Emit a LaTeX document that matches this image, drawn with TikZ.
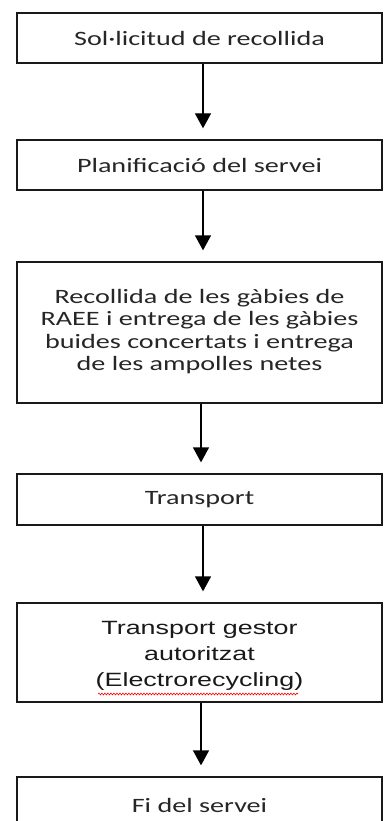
\documentclass[tikz,border=0pt]{standalone}
\usepackage{fontspec}
\setmainfont{Carlito}
\newfontfamily\arialfont{Liberation Sans}
\usetikzlibrary{arrows.meta,positioning,decorations.pathmorphing}
\begin{document}
\begin{tikzpicture}[x=1pt,y=-1pt,
  stepbox/.style={draw=black!90,line width=1.3pt,rectangle,minimum width=365pt,inner sep=0pt,text=black!85,align=center,font=\fontsize{20.4}{22.4}\selectfont},
  flow/.style={draw=black,line width=1.3pt,-{Triangle[length=15pt,width=16pt]},shorten >=11pt}
]
\useasboundingbox (0,0) rectangle (383,821);
\clip (0,0) rectangle (383,821);
\fill[white] (0,0) rectangle (383,821);
\node[stepbox,minimum height=50pt] (b1) at (199.5,38) {\scalebox{1.38}[1]{Sol·licitud de recollida}};
\node[stepbox,minimum height=50pt] (b2) at (199.5,165) {\scalebox{1.38}[1]{Planificació del servei}};
\node[stepbox,minimum height=141pt] (b3) at (199.5,332.5) {\scalebox{1.38}[1]{\begin{tabular}{@{}c@{}}Recollida de les gàbies de\\RAEE i entrega de les gàbies\\buides concertats i entrega\\de les ampolles netes\end{tabular}}};
\node[stepbox,minimum height=51pt] (b4) at (199.5,499.5) {\scalebox{1.38}[1]{Transport}};
\node[stepbox,minimum height=99pt] (b5) at (199.5,652.5) {};
\node[text=black!90,align=center,font=\arialfont\fontsize{19.2}{26}\selectfont] (t5) at (199.5,655) {\scalebox{1.4}[1]{\begin{tabular}{@{}c@{}}Transport gestor\\autoritzat\\(Electrorecycling)\end{tabular}}};
\node[stepbox,minimum height=60pt] (b6) at (199.5,807) {};
\node[text=black!85,font=\fontsize{20.4}{22.4}\selectfont] (t6) at (199.5,805) {\scalebox{1.38}[1]{Fi del servei}};
\draw[flow] ([xshift=3.5pt]b1.south) -- ([xshift=3.5pt]b2.north);
\draw[flow] ([xshift=3.5pt]b2.south) -- ([xshift=3.5pt]b3.north);
\draw[flow] ([xshift=1.5pt]b3.south) -- ([xshift=1.5pt]b4.north);
\draw[flow] ([xshift=3.5pt]b4.south) -- ([xshift=3.5pt]b5.north);
\draw[flow] ([xshift=1.5pt]b5.south) -- ([xshift=1.5pt]b6.north);
\draw[red,line width=0.6pt,decorate,decoration={snake,amplitude=0.9pt,segment length=3pt}] (98,694) -- (298,694);
\end{tikzpicture}
\end{document}
